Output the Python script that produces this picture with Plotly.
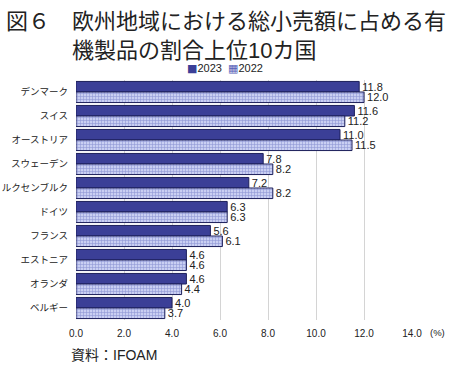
import plotly.graph_objects as go

countries = ["デンマーク", "スイス", "オーストリア", "スウェーデン", "ルクセンブルク",
             "ドイツ", "フランス", "エストニア", "オランダ", "ベルギー"]
v2023 = [11.8, 11.6, 11.0, 7.8, 7.2, 6.3, 5.6, 4.6, 4.6, 4.0]
v2022 = [12.0, 11.2, 11.5, 8.2, 8.2, 6.3, 6.1, 4.6, 4.4, 3.7]
xticks = [0, 2, 4, 6, 8, 10, 12, 14]
xticklabels = ["0.0", "2.0", "4.0", "6.0", "8.0", "10.0", "12.0", "14.0"]
series_names = ["2023", "2022"]

FONT = "Liberation Sans, Noto Sans CJK JP"
C2023 = "#3b3f97"
C2022_BG = "#c9cff2"
C2022_FG = "#5560b8"
W, H = 450, 366
ML, MR, MT, MB = 76, 38, 80, 46
PW, PH = W - ML - MR, H - MT - MB


def px(x):
    return (x - ML) / PW


def py(y_top):
    return (H - y_top - MB) / PH


fig = go.Figure()
fig.add_trace(go.Bar(
    name=series_names[0], y=countries, x=v2023, orientation="h",
    marker=dict(color=C2023, line=dict(color="#1c1f5a", width=1)),
    text=[f"{v:.1f}" for v in v2023], textposition="outside", constraintext="none",
    textfont=dict(size=11, color="#222"), cliponaxis=False,
))
fig.add_trace(go.Bar(
    name=series_names[1], y=countries, x=v2022, orientation="h",
    marker=dict(color="#aab2e6", line=dict(color="#1c1f5a", width=1),
                pattern=dict(shape="+", fgcolor=C2022_FG, bgcolor=C2022_BG, size=3, solidity=0.35)),
    text=[f"{v:.1f}" for v in v2022], textposition="outside", constraintext="none",
    textfont=dict(size=11, color="#222"), cliponaxis=False,
))

legend_text = (
    f'<span style="font-family:DejaVu Sans;color:{C2023}">■</span>{series_names[0]}  '
    f'<span style="font-family:DejaVu Sans;color:{C2022_FG}">▦</span>{series_names[1]}'
)

fig.update_layout(
    width=W, height=H,
    margin=dict(l=ML, r=MR, t=MT, b=MB, autoexpand=False),
    paper_bgcolor="white", plot_bgcolor="white",
    font=dict(family=FONT, color="#222"),
    barmode="group", bargap=0.12, bargroupgap=0.0,
    showlegend=False,
    xaxis=dict(range=[0, 14], tickvals=xticks, ticktext=xticklabels,
               showgrid=True, gridcolor="#d4d4d4", gridwidth=1,
               zeroline=False, showline=False, ticks="",
               tickfont=dict(size=10), ticklabelstandoff=6),
    yaxis=dict(autorange="reversed", showgrid=False, showline=False, ticks="",
               tickfont=dict(size=9.5, family="Noto Sans CJK JP"), ticklabelstandoff=7),
    annotations=[
        dict(text="図６　欧州地域における総小売額に占める有<br>　　　機製品の割合上位10カ国",
             x=px(4), y=py(36), align="left",
             xref="paper", yref="paper", showarrow=False, xanchor="left", yanchor="middle",
             font=dict(size=22, color="#222", family=FONT)),
        dict(text=legend_text, x=px(225), y=py(69),
             xref="paper", yref="paper", showarrow=False, xanchor="center", yanchor="middle",
             font=dict(size=11, color="#222")),
        dict(text="(%)", x=14, y=0, xref="x", yref="paper", xshift=16, yshift=-12,
             showarrow=False, xanchor="left", yanchor="middle", font=dict(size=9.5)),
        dict(text="資料：IFOAM", x=px(69), y=py(355),
             xref="paper", yref="paper", showarrow=False, xanchor="left", yanchor="middle",
             font=dict(size=14, color="#222")),
    ],
)

fig.write_html("out.html", config={"displayModeBar": False},
               post_script="document.body.style.margin='0';")
